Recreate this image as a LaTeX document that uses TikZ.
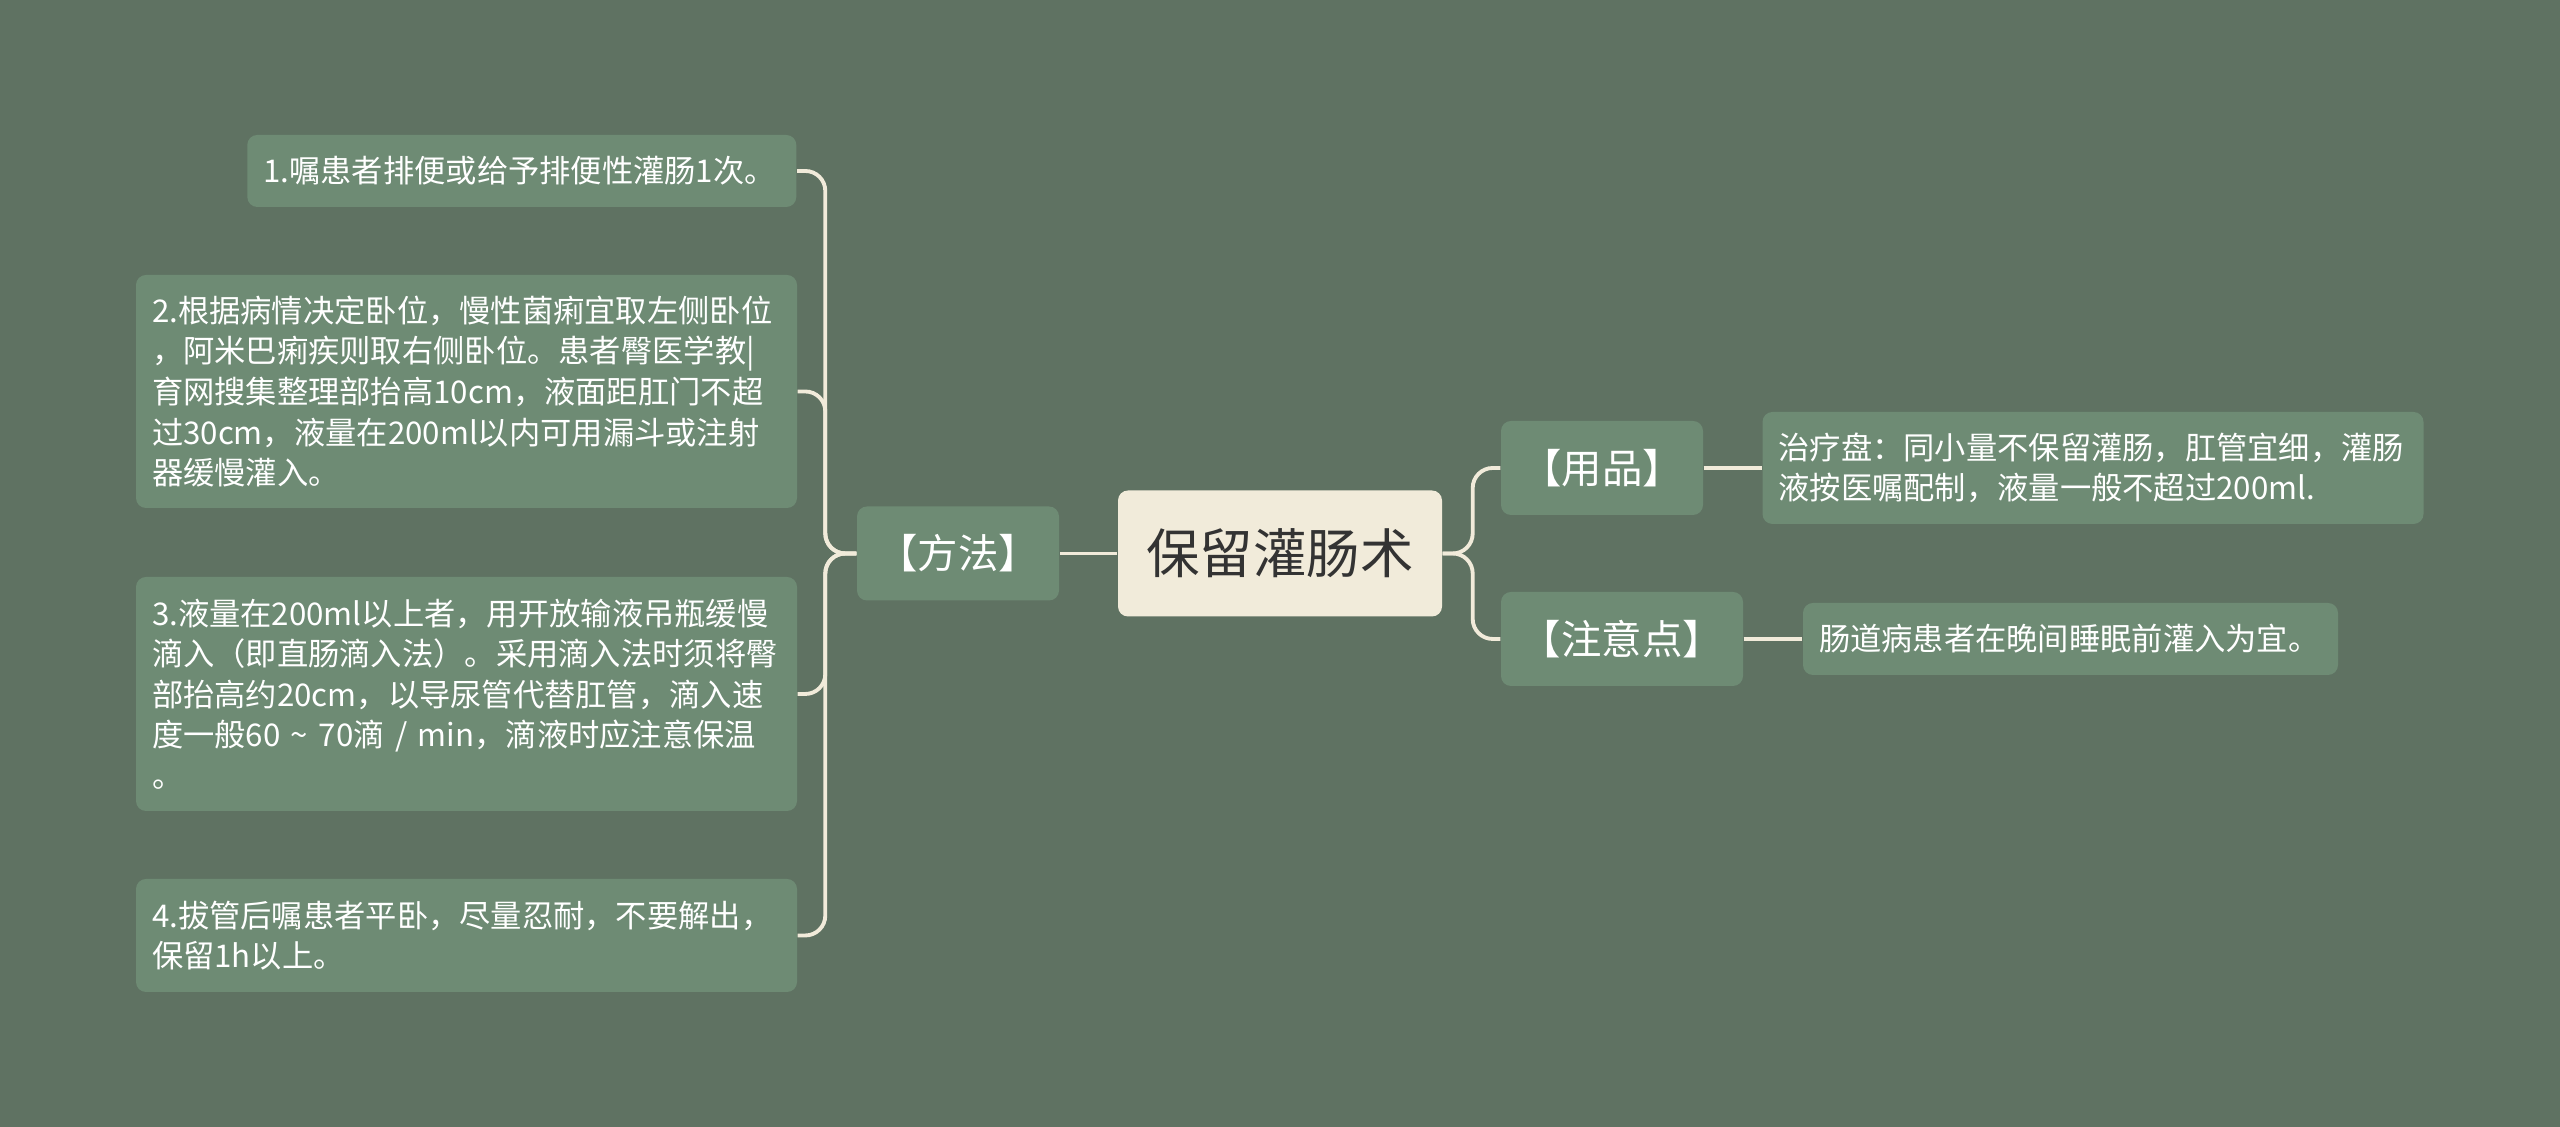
\documentclass[tikz,border=0pt]{standalone}
\usepackage{fontspec}
\setmainfont{Noto Sans CJK SC}
\usepackage{xcolor}
\usepackage{tikz}
\definecolor{sage}{HTML}{5F7262}
\definecolor{sagebox}{HTML}{6E8B74}
\definecolor{cream}{HTML}{F1EBDA}
\definecolor{ink}{HTML}{333333}
\tikzset{
  box/.style={rounded corners=1mm,inner sep=0pt,text=white,fill=sagebox},
  root/.style={box,fill=cream,text=ink,font=\fontsize{15.2pt}{18pt}\selectfont,
               minimum width=3.24cm,minimum height=1.26cm},
  branch/.style={box,font=\fontsize{11.5pt}{14pt}\selectfont,minimum height=0.94cm},
  leaf/.style={box,font=\fontsize{8.9pt}{11.55pt}\selectfont,align=left,inner xsep=0.16cm},
  link/.style={draw=cream,line width=1.1pt,rounded corners=2mm},
}
\begin{document}
\begin{tikzpicture}[x=1cm,y=1cm]
  \useasboundingbox (0,0) rectangle (25.6,11.27);
  \fill[sage] (0,0) rectangle (25.6,11.27);
  % centre and branches
  \node[root] (root) at (12.80,5.735) {保留灌肠术};
  \node[branch,minimum width=2.02cm] (fangfa) at (9.58,5.735) {【方法】};
  \node[branch,minimum width=2.02cm] (yongpin) at (16.02,6.59) {【用品】};
  \node[branch,minimum width=2.42cm] (zhuyi) at (16.22,4.88) {【注意点】};
  % method steps
  \node[leaf,text width=5.17cm,minimum height=0.72cm,anchor=east] (m1) at (7.97,9.56)
    {1.嘱患者排便或给予排便性灌肠1次。};
  \node[leaf,text width=6.29cm,minimum height=2.33cm] (m2) at (4.665,7.355)
    {2.根据病情决定卧位，慢性菌痢宜取左侧卧位\\，阿米巴痢疾则取右侧卧位。患者臀医学教|\\育网搜集整理部抬高10cm，液面距肛门不超\\过30cm，液量在200ml以内可用漏斗或注射\\器缓慢灌入。};
  \node[leaf,text width=6.29cm,minimum height=2.34cm] (m3) at (4.665,4.33)
    {3.液量在200ml以上者，用开放输液吊瓶缓慢\\滴入（即直肠滴入法）。采用滴入法时须将臀\\部抬高约20cm，以导尿管代替肛管，滴入速\\度一般60 \textasciitilde{} 70滴 / min，滴液时应注意保温\\。};
  \node[leaf,text width=6.29cm,minimum height=1.13cm] (m4) at (4.665,1.915)
    {4.拔管后嘱患者平卧，尽量忍耐，不要解出，\\保留1h以上。};
  % right leaves
  \node[leaf,text width=6.29cm,minimum height=1.12cm] (zhiliao) at (20.93,6.59)
    {治疗盘：同小量不保留灌肠，肛管宜细，灌肠\\液按医嘱配制，液量一般不超过200ml.};
  \node[leaf,text width=5.03cm,minimum height=0.72cm] (changdao) at (20.705,4.88)
    {肠道病患者在晚间睡眠前灌入为宜。};
  % connectors
  \draw[link] (root.west) -- (fangfa.east);
  \foreach \m in {m1,m2,m3,m4}
    \draw[link] (fangfa.west) -- ++(-0.31,0) |- (\m.east);
  \foreach \b in {yongpin,zhuyi}
    \draw[link] (root.east) -- ++(0.30,0) |- (\b.west);
  \draw[link] (yongpin.east) -- (zhiliao.west);
  \draw[link] (zhuyi.east) -- (changdao.west);
\end{tikzpicture}
\end{document}
